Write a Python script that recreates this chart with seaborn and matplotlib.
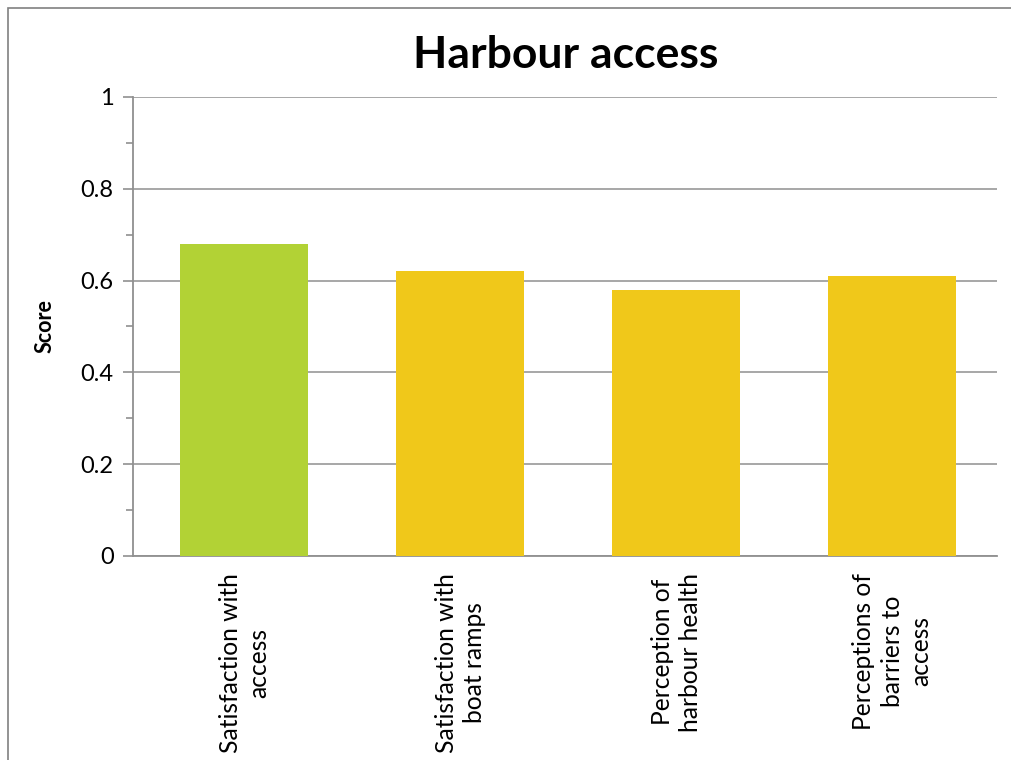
import matplotlib
matplotlib.use("Agg")
import matplotlib.pyplot as plt
import seaborn as sns
import pandas as pd
from matplotlib.patches import Rectangle
from matplotlib.ticker import MultipleLocator

categories = [
    "Satisfaction with\naccess",
    "Satisfaction with\nboat ramps",
    "Perception of\nharbour health",
    "Perceptions of\nbarriers to\naccess",
]
scores = [0.68, 0.62, 0.58, 0.61]
bar_colors = ["#B2D235", "#F0C81A", "#F0C81A", "#F0C81A"]
y_ticks = [0, 0.2, 0.4, 0.6, 0.8, 1.0]
y_tick_labels = ["0", "0.2", "0.4", "0.6", "0.8", "1"]

df = pd.DataFrame({"category": categories, "score": scores})

sns.set_theme(style="white")
plt.rcParams["font.family"] = ["Lato", "DejaVu Sans"]
plt.rcParams["text.color"] = "black"

fig = plt.figure(figsize=(10.12, 7.6), dpi=100)
ax = fig.add_axes([133 / 1012, 204 / 760, 864 / 1012, 459 / 760])

sns.barplot(data=df, x="category", y="score", hue="category",
            palette=bar_colors, width=0.593, saturation=1,
            legend=False, ax=ax, zorder=3, linewidth=0)

ax.set_ylim(0, 1)
ax.set_xlim(-0.515, 3.485)
ax.yaxis.set_minor_locator(MultipleLocator(0.1))
ax.set_yticks(y_ticks)
ax.set_yticklabels(y_tick_labels, fontsize=17, color="black")
ax.grid(axis="y", which="major", color="#A0A0A0", linewidth=1.3, zorder=0)
ax.set_axisbelow(True)

for side in ["top", "right"]:
    ax.spines[side].set_visible(False)
for side in ["left", "bottom"]:
    ax.spines[side].set_color("#909090")
    ax.spines[side].set_linewidth(1.3)

ax.tick_params(axis="y", which="major", direction="out", length=7,
               width=1.2, color="#909090", left=True, pad=7)
ax.tick_params(axis="y", which="minor", direction="out", length=5,
               width=1.2, color="#909090", left=True)
ax.tick_params(axis="x", length=0, pad=12)

ax.set_xticks(range(len(categories)))
ax.set_xticklabels(categories, rotation=90, fontsize=17.7, color="black",
                   ha="center", va="top", multialignment="center",
                   linespacing=1.28)

ax.set_xlabel("")
ax.set_ylabel("Score", fontsize=15.5, fontweight="bold", color="black",
              labelpad=18)

fig.text(566 / 1012, 1 - 55 / 760, "Harbour access", ha="center",
         va="center", fontsize=32, fontweight="bold", color="black")

# chart frame
fig.patches.append(Rectangle((8 / 1012, -0.05), 1.1, 1 - 8 / 760 + 0.05,
                             transform=fig.transFigure, fill=False,
                             edgecolor="#808080", linewidth=1.2))

fig.savefig("out.png", dpi=100)
